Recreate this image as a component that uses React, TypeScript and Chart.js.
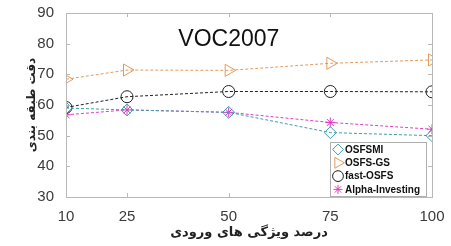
import React, { useEffect, useRef } from "react";
import { Chart, registerables } from "chart.js";
import { drawPoint } from "chart.js/helpers";

Chart.register(...registerables);

const xValues = [10, 25, 50, 75, 100];
const osfsmi = [59, 58.4, 57.6, 51, 50];
const osfsGs = [68.4, 71.4, 71.3, 73.6, 74.7];
const fastOsfs = [59.2, 62.7, 64.4, 64.4, 64.3];
const alphaInvesting = [56.8, 58.4, 57.6, 54.3, 52.1];
const seriesNames = ["OSFSMI", "OSFS-GS", "fast-OSFS", "Alpha-Investing"];
const yTicks = [30, 40, 50, 60, 70, 80, 90];
const chartTitle = "VOC2007";
const xTitle = "درصد ویژگی های ورودی";
const yTitle = "دقت طبقه بندی";

const colors = ["#3c9ea8", "#e59a5c", "#222222", "#df3fc4"];
const styles = [
  { pointStyle: "rectRot", radius: 6, rotation: 0 },
  { pointStyle: "triangle", radius: 7, rotation: 90 },
  { pointStyle: "circle", radius: 6, rotation: 0 },
  { pointStyle: "star", radius: 5, rotation: 0 },
];

const toPts = (arr: number[]) => arr.map((v, i) => ({ x: xValues[i], y: v }));

const boxPlugin = {
  id: "boxPlugin",
  afterDraw(chart: any) {
    const { ctx, chartArea: a, scales } = chart;
    ctx.save();
    ctx.strokeStyle = "#b8b8b8";
    ctx.lineWidth = 1;
    ctx.strokeRect(Math.round(a.left) + 0.5, Math.round(a.top) + 0.5, Math.round(a.right - a.left), Math.round(a.bottom - a.top));
    ctx.beginPath();
    scales.x.ticks.forEach((t: any) => {
      const px = Math.round(scales.x.getPixelForValue(t.value)) + 0.5;
      ctx.moveTo(px, a.bottom);
      ctx.lineTo(px, a.bottom - 4);
      ctx.moveTo(px, a.top);
      ctx.lineTo(px, a.top + 4);
    });
    scales.y.ticks.forEach((t: any) => {
      const py = Math.round(scales.y.getPixelForValue(t.value)) + 0.5;
      ctx.moveTo(a.left, py);
      ctx.lineTo(a.left + 4, py);
      ctx.moveTo(a.right, py);
      ctx.lineTo(a.right - 4, py);
    });
    ctx.stroke();

    ctx.fillStyle = "#111";
    ctx.font = "23px 'Liberation Sans', Arial, sans-serif";
    ctx.textAlign = "center";
    ctx.textBaseline = "middle";
    ctx.fillText(chartTitle, a.left + (a.right - a.left) * 0.445, a.top + 27);

    const lw = 96, lh = 54;
    const lx = a.right - 102, ly = a.bottom - 55;
    ctx.fillStyle = "#fff";
    ctx.fillRect(lx, ly, lw, lh);
    ctx.strokeStyle = "#b0b0b0";
    ctx.strokeRect(Math.round(lx) + 0.5, Math.round(ly) + 0.5, lw, lh);
    ctx.font = "bold 10px 'Liberation Sans', Arial, sans-serif";
    ctx.textAlign = "left";
    chart.data.datasets.forEach((ds: any, i: number) => {
      const cy = ly + 7.5 + i * 13.3;
      ctx.strokeStyle = ds.borderColor;
      ctx.fillStyle = "rgba(0,0,0,0)";
      ctx.lineWidth = 1;
      drawPoint(ctx, { pointStyle: ds.pointStyle, radius: ds.pointRadius * 0.9, rotation: ds.pointRotation, borderWidth: 1 }, lx + 8, cy);
      ctx.fillStyle = "#111";
      ctx.fillText(ds.label, lx + 15, cy + 0.5);
    });
    ctx.restore();
  },
};

export default function App() {
  const ref = useRef<HTMLCanvasElement>(null);
  useEffect(() => {
    document.body.style.margin = "0";
    const series = [osfsmi, osfsGs, fastOsfs, alphaInvesting];
    const chart = new Chart(ref.current!, {
      type: "line",
      data: {
        datasets: series.map((s, i) => ({
          label: seriesNames[i],
          data: toPts(s),
          borderColor: colors[i],
          backgroundColor: "transparent",
          borderWidth: 1,
          borderDash: [3, 2],
          pointStyle: styles[i].pointStyle as any,
          pointRadius: styles[i].radius,
          pointRotation: styles[i].rotation,
          pointBorderWidth: 1,
          pointBackgroundColor: "transparent",
          pointBorderColor: colors[i],
          tension: 0,
        })),
      },
      options: {
        animation: false,
        responsive: false,
        maintainAspectRatio: false,
        layout: { padding: { top: 13, right: 19, left: 0, bottom: 0 } },
        plugins: { legend: { display: false }, tooltip: { enabled: false } },
        scales: {
          x: {
            type: "linear",
            min: 10,
            max: 100,
            afterBuildTicks: (s: any) => {
              s.ticks = xValues.map((v) => ({ value: v }));
            },
            afterFit: (s: any) => {
              s.height = 49;
            },
            grid: { display: false },
            border: { display: false },
            ticks: {
              color: "#3a3a3a",
              padding: 3,
              font: { family: "'Liberation Sans', Arial, sans-serif", size: 15 },
              autoSkip: false,
              maxRotation: 0,
            },
            title: {
              display: true,
              text: xTitle,
              color: "#222",
              font: { family: "'DejaVu Sans', sans-serif", size: 13, weight: "bold" },
              padding: { top: 0, bottom: 6 },
            },
          },
          y: {
            type: "linear",
            min: 30,
            max: 90,
            afterBuildTicks: (s: any) => {
              s.ticks = yTicks.map((v) => ({ value: v }));
            },
            afterFit: (s: any) => {
              s.width = 66;
            },
            grid: { display: false },
            border: { display: false },
            ticks: {
              color: "#3a3a3a",
              padding: 4,
              font: { family: "'Liberation Sans', Arial, sans-serif", size: 15 },
            },
            title: {
              display: true,
              text: yTitle,
              color: "#222",
              font: { family: "'DejaVu Sans', sans-serif", size: 12, weight: "bold" },
              padding: { top: 25, bottom: 0 },
            },
          },
        },
      },
      plugins: [boxPlugin],
    });
    return () => chart.destroy();
  }, []);
  return (
    <div style={{ width: 451, height: 246 }}>
      <canvas ref={ref} width={451} height={246} style={{ width: 451, height: 246 }} />
    </div>
  );
}
